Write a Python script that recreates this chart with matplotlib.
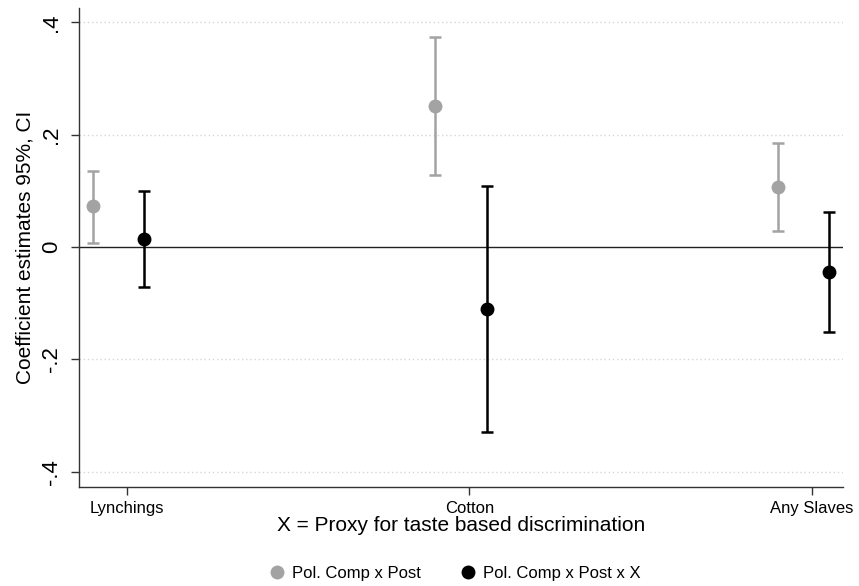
import numpy as np
import matplotlib
matplotlib.use("Agg")
import matplotlib.pyplot as plt
from matplotlib.lines import Line2D

plt.rcParams['font.family'] = ['Liberation Sans', 'DejaVu Sans']

categories = ['Lynchings', 'Cotton', 'Any Slaves']

# Pol. Comp x Post
post_coef = [0.073, 0.251, 0.106]
post_lo = [0.008, 0.128, 0.029]
post_hi = [0.136, 0.373, 0.185]

# Pol. Comp x Post x X
postx_coef = [0.015, -0.111, -0.045]
postx_lo = [-0.071, -0.329, -0.151]
postx_hi = [0.100, 0.108, 0.062]

GRAY = '#a3a3a3'
AXCOL = '#333333'

fig = plt.figure(figsize=(8.59, 5.86), dpi=100)
ax = fig.add_axes([0.092, 0.169, 0.889, 0.817])

x = np.arange(1, len(categories) + 1)

def draw(xpos, coef, lo, hi, color):
    coef = np.array(coef)
    err = [coef - np.array(lo), np.array(hi) - coef]
    ax.errorbar(xpos, coef, yerr=err, fmt='o', color=color, ecolor=color,
                markersize=9, elinewidth=1.8, capsize=4.5, capthick=1.8, zorder=3)

ax.axhline(0, color='#222222', lw=1.0, zorder=2)
for yv in [-0.4, -0.2, 0.2, 0.4]:
    ax.axhline(yv, color='#d5d5d5', lw=1.0, linestyle=(0, (1, 2)), zorder=1)

draw(x - 0.1, post_coef, post_lo, post_hi, GRAY)
draw(x + 0.05, postx_coef, postx_lo, postx_hi, 'black')

ax.set_xlim(0.86, 3.09)
ax.set_ylim(-0.427, 0.425)
ax.set_xticks(x)
ax.set_xticklabels(categories, fontsize=12)
ax.set_yticks([-0.4, -0.2, 0, 0.2, 0.4])
ax.set_yticklabels(['-.4', '-.2', '0', '.2', '.4'], fontsize=16,
                   rotation=90, va='center')

for s in ['top', 'right']:
    ax.spines[s].set_visible(False)
for s in ['left', 'bottom']:
    ax.spines[s].set_color(AXCOL)
    ax.spines[s].set_linewidth(1.0)
ax.tick_params(axis='both', colors=AXCOL, length=6, width=1.0, labelcolor='black')
ax.tick_params(axis='y', pad=6)
ax.tick_params(axis='x', pad=4)

ax.set_ylabel('Coefficient estimates 95%, CI', fontsize=15, labelpad=5)
ax.set_xlabel('X = Proxy for taste based discrimination', fontsize=15, labelpad=0)

handles = [Line2D([], [], marker='o', color=GRAY, linestyle='none', markersize=9),
           Line2D([], [], marker='o', color='black', linestyle='none', markersize=9)]
fig.legend(handles=handles, labels=['Pol. Comp x Post', 'Pol. Comp x Post x X'],
           loc='center', bbox_to_anchor=(0.528, 0.021), ncol=2, frameon=False,
           fontsize=12, handletextpad=0.3, columnspacing=2.2, handlelength=1.2)

fig.savefig('out.png', dpi=100)
